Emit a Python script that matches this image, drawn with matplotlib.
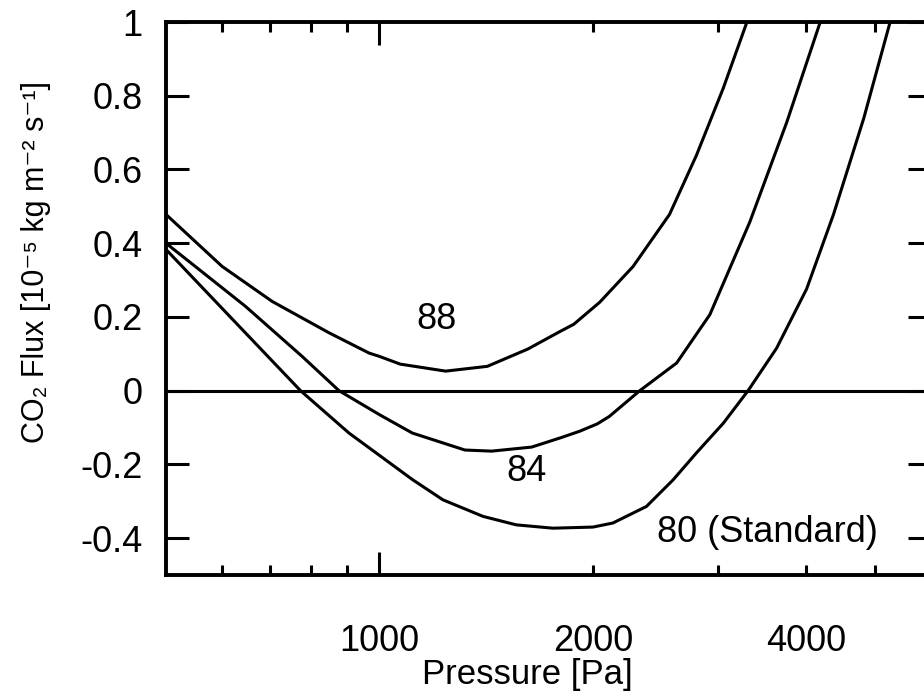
import numpy as np
import matplotlib
matplotlib.use("Agg")
import matplotlib.pyplot as plt
from matplotlib.ticker import FixedLocator, FuncFormatter

plt.rcParams['font.family'] = ['Liberation Sans', 'DejaVu Sans']
plt.rcParams['axes.unicode_minus'] = False

# pressure [Pa] and CO2 flux [1e-5 kg m-2 s-1]
p88 = [500, 600, 706, 849, 967, 1000, 1070, 1240, 1420, 1620, 1800, 1880,
       2046, 2280, 2566, 2800, 3055, 3300]
f88 = [0.478, 0.337, 0.242, 0.157, 0.102, 0.093, 0.072, 0.053, 0.066, 0.113,
       0.161, 0.180, 0.240, 0.337, 0.478, 0.638, 0.82, 1.0]

p84 = [500, 647, 778, 877, 1000, 1113, 1151, 1320, 1440, 1640, 1800, 1917,
       2030, 2110, 2330, 2626, 2925, 3330, 3757, 4187]
f84 = [0.400, 0.229, 0.093, 0.0, -0.065, -0.115, -0.124, -0.161, -0.164,
       -0.153, -0.128, -0.110, -0.090, -0.070, 0.0, 0.075, 0.206, 0.457,
       0.729, 1.0]

p80 = [500, 647, 774, 906, 1113, 1229, 1400, 1560, 1757, 2001, 2135, 2381,
       2596, 2800, 3057, 3312, 3633, 4006, 4371, 4823, 5254]
f80 = [0.383, 0.157, 0.0, -0.115, -0.241, -0.296, -0.341, -0.364, -0.373,
       -0.370, -0.359, -0.314, -0.242, -0.169, -0.088, 0.0, 0.115, 0.276,
       0.478, 0.739, 1.0]

curve_labels = ["88", "84", "80 (Standard)"]
label_pos = [(1204, 0.193), (1613, -0.22), (3527, -0.385)]

x_major = [1000]
x_minor = [600, 700, 800, 900, 2000, 3000, 4000, 5000]
x_labeled = [1000, 2000, 4000]
y_ticks = [-0.4, -0.2, 0, 0.2, 0.4, 0.6, 0.8, 1]

W, H = 924, 694
fig = plt.figure(figsize=(W / 100, H / 100), dpi=100)
ax = fig.add_axes([166 / W, (H - 575) / H, (931 - 166) / W, (575 - 22) / H])

for p, f in [(p88, f88), (p84, f84), (p80, f80)]:
    ax.plot(p, f, color='black', lw=2.2)
ax.axhline(0, color='black', lw=2.2)

for txt, (x, y) in zip(curve_labels, label_pos):
    ax.text(x, y, txt, fontsize=26, ha='center', va='center')

ax.set_xscale('log')
ax.set_xlim(500, 6000)
ax.set_ylim(-0.5, 1)

ax.xaxis.set_major_locator(FixedLocator(x_major))
ax.xaxis.set_minor_locator(FixedLocator(x_minor))
lab = lambda v, pos: "%d" % v if int(round(v)) in x_labeled else ""
ax.xaxis.set_major_formatter(FuncFormatter(lab))
ax.xaxis.set_minor_formatter(FuncFormatter(lab))
ax.set_yticks(y_ticks)
ax.set_yticklabels(["%g" % v for v in y_ticks])

ax.tick_params(which='both', direction='in', top=True, right=True,
               labelsize=26, width=2.2)
ax.tick_params(which='major', length=16.5)
ax.tick_params(which='minor', length=7)
ax.tick_params(axis='y', pad=17)
ax.tick_params(axis='x', which='both', pad=35)
for s in ax.spines.values():
    s.set_linewidth(2.8)

ax.set_xlabel("Pressure [Pa]", fontsize=25)
ax.xaxis.set_label_coords(0.472, -0.197)
ax.xaxis.label.set_va('baseline')
ax.set_ylabel("CO\u2082 Flux [10\u207b\u2075 kg m\u207b\u00b2 s\u207b\u00b9]",
              fontsize=22)
ax.yaxis.set_label_coords(-0.15, 0.566)

fig.savefig("out.png", dpi=100)
